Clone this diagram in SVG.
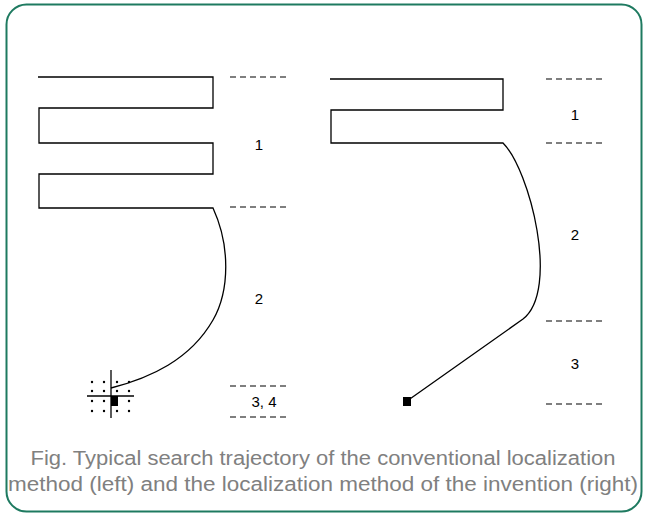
<svg xmlns="http://www.w3.org/2000/svg" width="647" height="516" viewBox="0 0 647 516">
<style>
.tr{fill:none;stroke:#000;stroke-width:1.3;stroke-linejoin:miter}
.ds{stroke:#000;stroke-width:1.2;stroke-dasharray:6,4}
.lb{font-family:"Liberation Sans",Arial,sans-serif;font-size:15px;fill:#000;text-anchor:middle}
.cap{font-family:"Liberation Sans",Arial,sans-serif;font-size:20px;fill:#808080;text-anchor:middle}
.dot{fill:#000}
</style>
<rect x="6.5" y="4.5" width="635" height="507" rx="20" ry="20" fill="#fff" stroke="#1e7a60" stroke-width="2"/>
<g id="connectors">
<path class="tr" d="M38,77 H213 V108 H39 V143 H213 V174 H39 V208 H213 C230,245 230,290 213,320 C190,360 150,378 111,388"/>
<path class="tr" d="M330,79 H503 V110 H331 V143 H503 C530,170 560,290 523,319 L407,401"/>
</g>
<g id="left-grid">
<line x1="111" y1="370" x2="111" y2="418" stroke="#000" stroke-width="1.3"/>
<line x1="87" y1="396" x2="134" y2="396" stroke="#000" stroke-width="1.3"/>
<g class="dot">
<circle cx="92" cy="382" r="1.2"/><circle cx="104" cy="382" r="1.2"/><circle cx="117" cy="382" r="1.2"/><circle cx="129" cy="382" r="1.2"/>
<circle cx="92" cy="391" r="1.2"/><circle cx="104" cy="391" r="1.2"/><circle cx="117" cy="391" r="1.2"/><circle cx="129" cy="391" r="1.2"/>
<circle cx="92" cy="401" r="1.2"/><circle cx="104" cy="401" r="1.2"/><circle cx="129" cy="401" r="1.2"/>
<circle cx="92" cy="411" r="1.2"/><circle cx="104" cy="411" r="1.2"/><circle cx="117" cy="411" r="1.2"/><circle cx="129" cy="411" r="1.2"/>
</g>
<rect x="111" y="396" width="7" height="10" fill="#000"/>
</g>
<g id="right-end">
<rect x="403" y="397" width="8" height="9" fill="#000"/>
</g>
<g id="left-labels">
<line class="ds" x1="230" y1="77" x2="289" y2="77"/>
<line class="ds" x1="230" y1="207" x2="289" y2="207"/>
<line class="ds" x1="230" y1="386" x2="289" y2="386"/>
<line class="ds" x1="230" y1="417" x2="289" y2="417"/>
<text class="lb" x="259" y="150">1</text>
<text class="lb" x="259" y="304">2</text>
<text class="lb" x="264" y="407">3, 4</text>
</g>
<g id="right-labels">
<line class="ds" x1="546" y1="79" x2="605" y2="79"/>
<line class="ds" x1="546" y1="143" x2="605" y2="143"/>
<line class="ds" x1="546" y1="321" x2="605" y2="321"/>
<line class="ds" x1="546" y1="404" x2="605" y2="404"/>
<text class="lb" x="575" y="120">1</text>
<text class="lb" x="575" y="240">2</text>
<text class="lb" x="575" y="369">3</text>
</g>
<g id="caption">
<text class="cap" x="323" y="465" textLength="585" lengthAdjust="spacingAndGlyphs">Fig. Typical search trajectory of the conventional localization</text>
<text class="cap" x="323" y="491" textLength="630" lengthAdjust="spacingAndGlyphs">method (left) and the localization method of the invention (right)</text>
</g>
</svg>
